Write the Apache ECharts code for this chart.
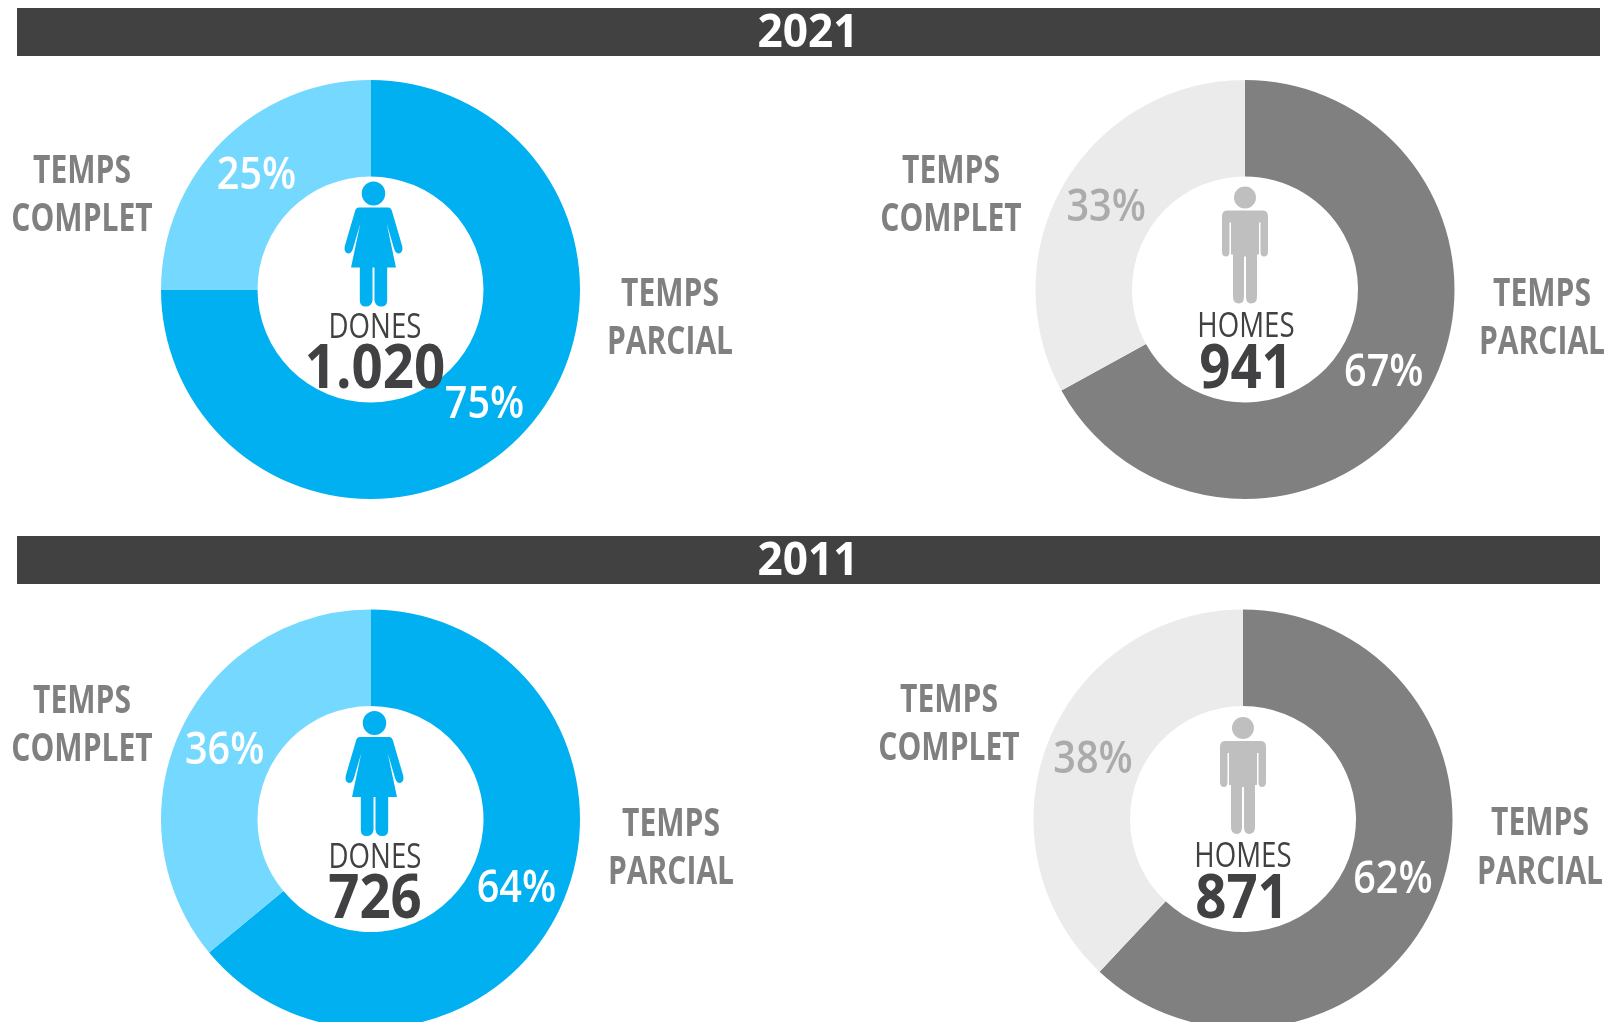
<!DOCTYPE html>
<html>
<head>
<meta charset="utf-8">
<title>Temps complet / temps parcial</title>
<style>
  html, body { margin: 0; padding: 0; background: #fff; }
  #chart { width: 1608px; height: 1022px; }
</style>
<script src="https://cdn.jsdelivr.net/npm/echarts@6/dist/echarts.min.js"></script>
</head>
<body>
<div id="chart"></div>
<script>
// Dades
const years = ['2021', '2011'];
const groups = ['DONES', 'HOMES', 'DONES', 'HOMES'];
const totals = ['1.020', '941', '726', '871'];
const parcial = [75, 67, 64, 62];
const complet = [25, 33, 36, 38];
const categories = ['TEMPS PARCIAL', 'TEMPS COMPLET'];

const FONT = '"Open Sans", sans-serif';
const BLUE = ['#00b0f0', '#75d9ff'];
const GREY = ['#808080', '#ebebeb'];
const R_IN = 113;
const R_OUT = 209.5;

const centers = [[370.5, 289.5], [1245, 289.5], [370.5, 819], [1243, 819]];
// posicio dels textos de cada donut
const layout = [
  { complet: [82, 172, 220], parcial: [670, 294.5, 342.5], group: [375, 328], total: [375, 371], icon: [373.5, 181.5] },
  { complet: [951, 172, 220], parcial: [1542, 294.5, 342.5], group: [1246, 327], total: [1246, 371], icon: [1245, 186.5] },
  { complet: [82, 702, 749.5], parcial: [671, 824.5, 872.5], group: [375, 858], total: [375, 901], icon: [374.5, 711] },
  { complet: [949, 701, 748.5], parcial: [1540, 824, 872.5], group: [1243, 857], total: [1242, 901], icon: [1243, 717] }
];

const womanPath = 'M0,0A12,12 0 1 1 -0.01,0Z' +
  'M-15,26L15,26Q18,26 19,30L29.5,65Q30.5,71 26,72Q22.5,72 21,67L13.5,42L23,86L14,86L14,119Q14,125 8,125Q2,125 1,119L1,86' +
  'L-1,86L-1,119Q-2,125 -8,125Q-14,125 -14,119L-14,86L-23,86L-13.5,42L-21,67Q-22.5,72 -26,72Q-30.5,71 -29.5,65L-19,30Q-18,26 -15,26Z';
const manPath = 'M0,0A11,11 0 1 1 -0.01,0Z' +
  'M-18,24L18,24Q23,24 23,30L23,65Q23,70 19,70Q15.5,70 15.5,65L15.5,36L14,36L14,68L12,68L12,110Q12,117 6,117Q1,117 1,110L1,70' +
  'L-1,70L-1,110Q-1,117 -6,117Q-12,117 -12,110L-12,68L-14,68L-14,36L-15.5,36L-15.5,65Q-15.5,70 -19,70Q-23,70 -23,65L-23,30Q-23,24 -18,24Z';

function text(str, x, y, size, color, weight, scaleX) {
  return {
    type: 'text',
    x: x,
    y: y,
    scaleX: scaleX,
    silent: true,
    z: 10,
    style: {
      text: str,
      fill: color,
      font: weight + ' ' + size + 'px ' + FONT,
      align: 'center',
      verticalAlign: 'middle'
    }
  };
}

const elements = [];

// Barres dels anys
years.forEach((year, i) => {
  const top = i === 0 ? 8 : 536;
  elements.push({
    type: 'rect',
    silent: true,
    shape: { x: 17, y: top, width: 1583, height: 48 },
    style: { fill: '#414141' }
  });
  elements.push(text(year, 808, top + 26, 47, '#fff', 'bold', 0.94));
});

groups.forEach((group, i) => {
  const l = layout[i];
  const c = centers[i];
  const words = categories.map(s => s.split(' '));
  elements.push(text(words[1][0], l.complet[0], l.complet[1], 39, '#808080', 'bold', 0.77));
  elements.push(text(words[1][1], l.complet[0], l.complet[2], 39, '#808080', 'bold', 0.77));
  elements.push(text(words[0][0], l.parcial[0], l.parcial[1], 39, '#808080', 'bold', 0.77));
  elements.push(text(words[0][1], l.parcial[0], l.parcial[2], 39, '#808080', 'bold', 0.77));
  elements.push(text(group, l.group[0], l.group[1], 35, '#414042', 'normal', 0.79));
  elements.push(text(totals[i], l.total[0], l.total[1], 60, '#414042', 'bold', 0.91));

  // percentatges al mig de cada sector
  const midR = (R_IN + R_OUT) / 2;
  const total = parcial[i] + complet[i];
  const a1 = (parcial[i] / 2 / total) * 2 * Math.PI;
  const a2 = ((parcial[i] + complet[i] / 2) / total) * 2 * Math.PI;
  elements.push(text(parcial[i] + '%', c[0] + midR * Math.sin(a1), c[1] + 1.5 - midR * Math.cos(a1), 46, '#fff', '600', 0.86));
  elements.push(text(complet[i] + '%', c[0] + midR * Math.sin(a2), c[1] + 0.5 - midR * Math.cos(a2), 46,
    group === 'DONES' ? '#fff' : '#ababab', '600', 0.86));
});

const series = groups.map((group, i) => {
  const colors = group === 'DONES' ? BLUE : GREY;
  return {
    type: 'pie',
    center: centers[i],
    radius: [R_IN, R_OUT],
    startAngle: 90,
    clockwise: true,
    silent: true,
    animation: false,
    emphasis: { disabled: true },
    labelLine: { show: false },
    label: { show: false },
    data: [
      { name: categories[0], value: parcial[i], itemStyle: { color: colors[0] } },
      { name: categories[1], value: complet[i], itemStyle: { color: colors[1] } }
    ]
  };
});

// Icones de persona
series.push({
  type: 'custom',
  coordinateSystem: 'none',
  silent: true,
  animation: false,
  z: 5,
  data: groups.map((g, i) => i),
  renderItem: (params, api) => {
    const i = api.value(0);
    const woman = groups[i] === 'DONES';
    const w = woman ? 58 : 46;
    const h = woman ? 125 : 117;
    return {
      type: 'path',
      shape: {
        pathData: woman ? womanPath : manPath,
        layout: 'cover',
        x: layout[i].icon[0] - w / 2,
        y: layout[i].icon[1],
        width: w,
        height: h
      },
      style: { fill: woman ? '#00b0f0' : '#bfbfbf' }
    };
  }
});

const chart = echarts.init(document.getElementById('chart'));
chart.setOption({
  animation: false,
  backgroundColor: '#fff',
  series: series,
  graphic: { elements: elements }
});
</script>
</body>
</html>
